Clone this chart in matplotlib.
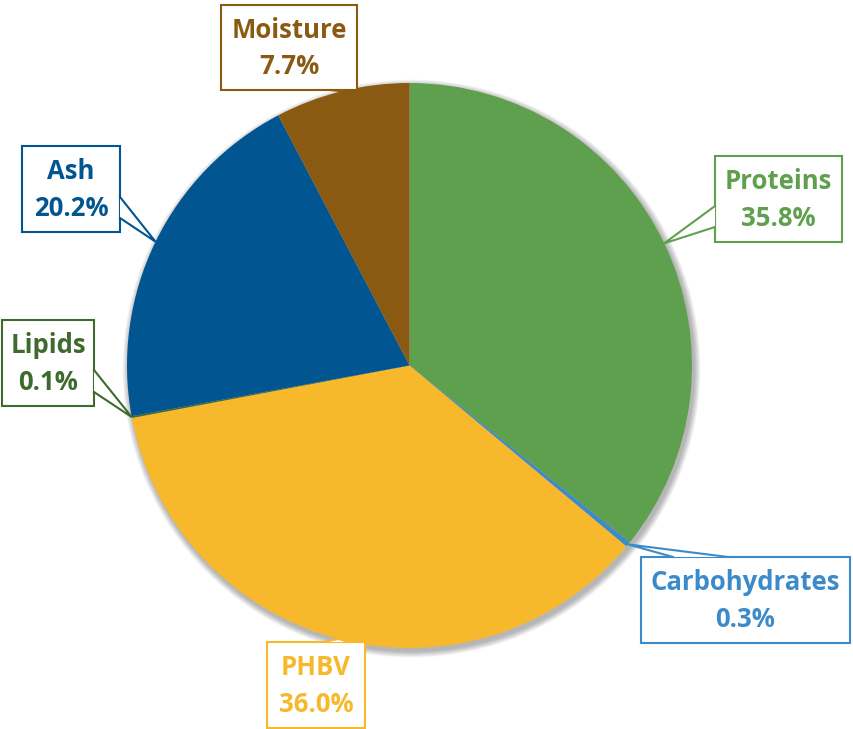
import numpy as np
import matplotlib.pyplot as plt
from matplotlib.patches import Rectangle, Polygon, Circle

# composition data, clockwise from 12 o'clock
labels = ['Proteins', 'Carbohydrates', 'PHBV', 'Lipids', 'Ash', 'Moisture']
values = [35.8, 0.3, 36.0, 0.1, 20.2, 7.7]
colors = ['#5FA04F', '#3B8BCB', '#F7B82B', '#3E6B2D', '#015591', '#8A5A12']

# layout in pixel units (origin top-left): label boxes and pointer base on the box
W, H = 854, 729
CX, CY, R = 409.5, 365.5, 282.5
boxes = {
    'Proteins':      ((715, 156, 842, 242), 'left',   (206, 227)),
    'Carbohydrates': ((641, 557, 850, 643), 'top',    (673, 728)),
    'PHBV':          ((267, 642, 365, 728), 'top',    (324, 348)),
    'Lipids':        ((2, 320, 94, 406),    'right',  (370, 392)),
    'Ash':           ((22, 146, 120, 232),  'right',  (197, 218)),
    'Moisture':      ((221, 5, 357, 90),    'bottom', (330, 352)),
}

plt.rcParams['font.family'] = ['Open Sans', 'DejaVu Sans']

fig = plt.figure(figsize=(W / 100, H / 100), dpi=100)
ax = fig.add_axes([0, 0, 1, 1])


def fy(y):
    # flip pixel y to data y
    return H - y


# soft shadow behind the pie
for k in range(1, 9):
    ax.add_patch(Circle((CX + 2, fy(CY) - 3), R + k * 0.8, color='black',
                        alpha=0.04, lw=0, zorder=0))

wedges, _ = ax.pie(values, colors=colors, startangle=90, counterclock=False,
                   radius=R, center=(CX, fy(CY)), frame=True,
                   wedgeprops=dict(linewidth=0))
ax.set_xlim(0, W)
ax.set_ylim(0, H)
ax.set_aspect('equal')
ax.axis('off')

for w, lab, val, col in zip(wedges, labels, values, colors):
    w.set_zorder(2)
    (x0, y0, x1, y1), side, (b0, b1) = boxes[lab]
    mid = np.deg2rad((w.theta1 + w.theta2) / 2)
    tip = (CX + R * np.cos(mid), fy(CY) + R * np.sin(mid))

    if side == 'left':
        base = [(x0, fy(b0)), (x0, fy(b1))]
    elif side == 'right':
        base = [(x1, fy(b0)), (x1, fy(b1))]
    elif side == 'top':
        base = [(b0, fy(y0)), (b1, fy(y0))]
    else:
        base = [(b0, fy(y1)), (b1, fy(y1))]

    ax.add_patch(Rectangle((x0, fy(y1)), x1 - x0, y1 - y0, facecolor='white',
                           edgecolor=col, lw=1.5, zorder=5))
    ax.add_patch(Polygon([base[0], tip, base[1]], closed=True, facecolor='white',
                         edgecolor='none', zorder=6))
    ax.plot([base[0][0], tip[0], base[1][0]], [base[0][1], tip[1], base[1][1]],
            color=col, lw=1.5, zorder=7, solid_joinstyle='miter')

    ax.text((x0 + x1) / 2, fy((y0 + y1) / 2) - 1, f'{lab}\n{val:.1f}%', color=col,
            fontsize=18.5, fontweight='bold', ha='center', va='center',
            linespacing=1.45, zorder=8)

fig.savefig('out.png', dpi=100, facecolor='white')
